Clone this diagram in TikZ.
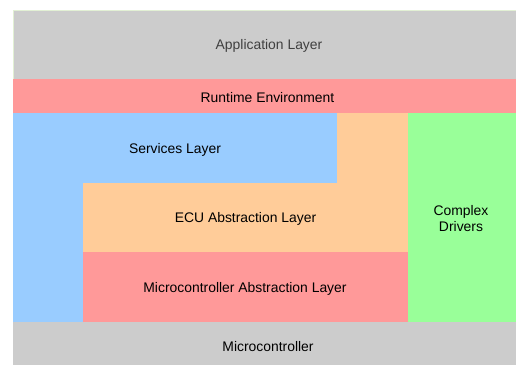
\documentclass[tikz,border=0pt]{standalone}
\usepackage{fontspec}
\setmainfont{Liberation Sans}
\definecolor{lgray}{HTML}{CCCCCC}
\definecolor{lred}{HTML}{FF9999}
\definecolor{lblue}{HTML}{99CCFF}
\definecolor{lorange}{HTML}{FFCC99}
\definecolor{lgreen}{HTML}{99FF99}
\definecolor{edgegreen}{HTML}{E2F0D4}
\definecolor{apptext}{HTML}{404040}
\begin{document}
\begin{tikzpicture}[x=1pt,y=-1pt,
  lbl/.style={font=\fontsize{13.9}{15.5}\selectfont, text=black, inner sep=0pt, align=center}]
\useasboundingbox (0,0) rectangle (516,365);
% blocks
\fill[lgray] (13,10) rectangle (516,79);
\draw[edgegreen, line width=0.8pt] (13.4,79) -- (13.4,10.4) -- (516,10.4);
\fill[lred] (13,79) rectangle (516,113);
\fill[lblue] (13,113) -- (337,113) -- (337,183) -- (83,183) -- (83,322) -- (13,322) -- cycle;
\fill[lorange] (337,113) -- (408,113) -- (408,252) -- (83,252) -- (83,183) -- (337,183) -- cycle;
\fill[lred] (83,252) rectangle (408,322);
\fill[lgreen] (408,113) rectangle (516,322);
\fill[lgray] (13,322) rectangle (516,365);
% labels
\node[lbl, text=apptext] (app) at (269,45.5) {Application Layer};
\node[lbl] (rte) at (267.5,97.5) {Runtime Environment};
\node[lbl] (srv) at (175,149.5) {Services Layer};
\node[lbl] (ecu) at (245.5,218.5) {ECU Abstraction Layer};
\node[lbl] (mcal) at (245,288.5) {Microcontroller Abstraction Layer};
\node[lbl] (cdd) at (461,218.5) {Complex\\Drivers};
\node[lbl] (mcu) at (268,346.5) {Microcontroller};
\end{tikzpicture}
\end{document}
